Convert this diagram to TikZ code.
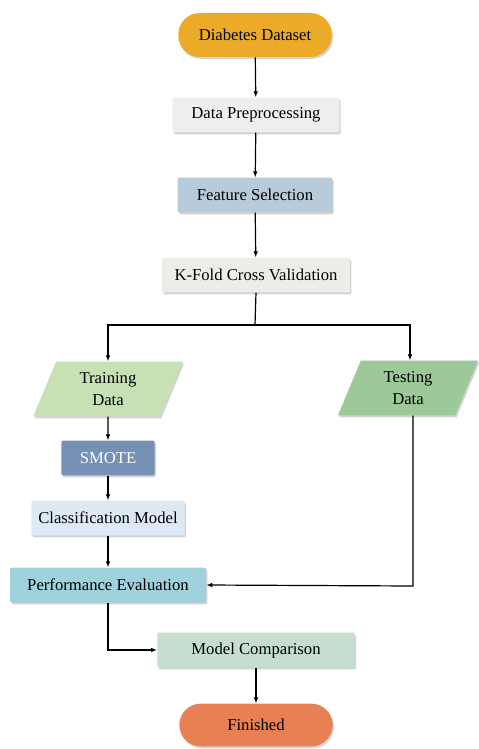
\documentclass[tikz,border=0pt]{standalone}
\usepackage{fontspec}
\setmainfont{Liberation Serif}
\usetikzlibrary{shapes.geometric,shadows,arrows.meta}

\definecolor{startcol}{RGB}{235,170,40}
\definecolor{prepcol}{RGB}{238,238,238}
\definecolor{featcol}{RGB}{183,203,218}
\definecolor{foldcol}{RGB}{237,237,232}
\definecolor{traincol}{RGB}{199,224,180}
\definecolor{testcol}{RGB}{157,200,154}
\definecolor{smotecol}{RGB}{118,144,182}
\definecolor{classcol}{RGB}{222,233,246}
\definecolor{perfcol}{RGB}{160,210,222}
\definecolor{compcol}{RGB}{197,222,208}
\definecolor{endcol}{RGB}{233,128,83}

\tikzset{
    shade/.style={drop shadow={shadow xshift=1pt,shadow yshift=-1.5pt,opacity=0.35,fill=gray}},
    box/.style={rectangle,rounded corners=1pt,shade,minimum height=26pt,inner sep=2pt,font=\fontsize{12.5}{14}\selectfont},
    term/.style={rectangle,rounded corners=16pt,shade,minimum height=33pt,minimum width=115pt,font=\fontsize{12.5}{14}\selectfont},
    iobox/.style={trapezium,trapezium left angle=62,trapezium right angle=118,trapezium stretches body=true,
        shade,minimum height=41pt,align=center,font=\fontsize{12.5}{17}\selectfont},
    flow/.style={-{Latex[length=4.5pt,width=3.5pt]},line width=0.9pt}
}

\begin{document}
\begin{tikzpicture}[x=0.75pt,y=-0.75pt]
    \useasboundingbox (0,0) rectangle (478,749);

    \node[term,fill=startcol] (data) at (255,35) {Diabetes Dataset};
    \node[box,fill=prepcol,minimum width=125pt] (prep) at (256,115) {Data Preprocessing};
    \node[box,fill=featcol,minimum width=116pt] (feat) at (255,195) {Feature Selection};
    \node[box,fill=foldcol,minimum width=141pt] (fold) at (256,275) {K-Fold Cross Validation};

    \node[iobox,fill=traincol,minimum width=112pt] (train) at (108,389) {Training\\Data};
    \node[iobox,fill=testcol,minimum width=105pt] (test) at (408,388) {Testing\\Data};

    \node[box,fill=smotecol,text=white,minimum width=70pt] (smote) at (108,458) {SMOTE};
    \node[box,fill=classcol,minimum width=115pt] (clf) at (108,518) {Classification Model};
    \node[box,fill=perfcol,minimum width=147pt] (perf) at (108,585) {Performance Evaluation};
    \node[box,fill=compcol,minimum width=148pt] (comp) at (256,650) {Model Comparison};
    \node[term,fill=endcol,minimum height=32pt] (done) at (256,725) {Finished};

    \coordinate (split) at (255,325);
    \coordinate (turn) at (413,586);

    \draw[flow] (data) -- (prep);
    \draw[flow] (prep) -- (feat);
    \draw[flow] (feat) -- (fold);
    \draw[line width=0.9pt] (fold.south) -- (split);
    \draw[flow] (split) -| (train.north);
    \draw[flow] (split) -| ([xshift=1.5pt]test.north);
    \draw[flow] (train) -- (smote);
    \draw[flow] (smote) -- (clf);
    \draw[flow] (clf) -- (perf);
    \draw[flow] (test.south -| turn) -- (turn) -- (perf.east);
    \draw[flow] (perf.south) |- (comp.west);
    \draw[flow] (comp) -- (done);

\end{tikzpicture}
\end{document}
